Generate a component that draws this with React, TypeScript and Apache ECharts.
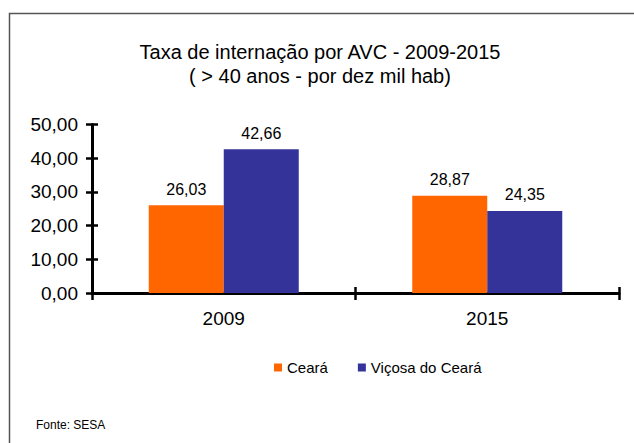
import React, { useEffect, useRef } from "react";
import * as echarts from "echarts";

const categories = ["2009", "2015"];
const cearaValues = [26.03, 28.87];
const vicosaValues = [42.66, 24.35];
const seriesNames = ["Ceará", "Viçosa do Ceará"];
const titleLines = ["Taxa de internação por AVC - 2009-2015", "( > 40 anos - por dez mil hab)"];
const sourceText = "Fonte: SESA";
const yMin = 0;
const yMax = 50;
const yStep = 10;

const fmt = (v: number) => v.toFixed(2).replace(".", ",");
const FONT = "'Liberation Sans', Arial, sans-serif";

export default function App() {
  const ref = useRef<HTMLDivElement>(null);
  useEffect(() => {
    if (!ref.current) return;
    const chart = echarts.init(ref.current, null, { renderer: "svg" });
    const grid = { left: 92, right: 15, top: 124.5, bottom: 150 };
    const axisLineStyle = { color: "#000", width: 3 };
    const tickStyle = { color: "#000", width: 2.5 };
    chart.setOption({
      animation: false,
      backgroundColor: "#fff",
      textStyle: { fontFamily: FONT },
      graphic: [
        {
          type: "rect",
          shape: { x: 9.5, y: 13.5, width: 700, height: 500 },
          style: { fill: "none", stroke: "#555", lineWidth: 1.5 },
          silent: true,
          z: -10,
        },
        {
          type: "text",
          x: 320,
          y: 52,
          style: { text: titleLines[0], fontSize: 20, fontFamily: FONT, fill: "#000", textAlign: "center", textVerticalAlign: "middle" },
        },
        {
          type: "text",
          x: 320,
          y: 76,
          style: { text: titleLines[1], fontSize: 20, fontFamily: FONT, fill: "#000", textAlign: "center", textVerticalAlign: "middle" },
        },
        {
          type: "text",
          x: 36,
          y: 425,
          style: { text: sourceText, fontSize: 12, fontFamily: FONT, fill: "#000", textAlign: "left", textVerticalAlign: "middle" },
        },
      ],
      legend: {
        data: seriesNames,
        left: 269,
        top: 355,
        icon: "rect",
        itemWidth: 8,
        itemHeight: 8,
        itemGap: 30,
        textStyle: { fontSize: 15, fontFamily: FONT, color: "#000" },
      },
      grid,
      xAxis: [
        {
          type: "category",
          data: categories,
          axisLine: { lineStyle: axisLineStyle },
          axisTick: { show: true, length: 7, lineStyle: tickStyle },
          axisLabel: { fontSize: 19, color: "#000", margin: 16, fontFamily: FONT },
        },
        {
          type: "category",
          data: categories,
          position: "bottom",
          axisLine: { show: false },
          axisTick: { show: true, inside: true, length: 6, lineStyle: tickStyle },
          axisLabel: { show: false },
        },
      ],
      yAxis: [
        {
          type: "value",
          min: yMin,
          max: yMax,
          interval: yStep,
          splitLine: { show: false },
          axisLine: { show: true, lineStyle: axisLineStyle },
          axisTick: { show: true, length: 6, lineStyle: tickStyle },
          axisLabel: { fontSize: 19, color: "#000", margin: 14, fontFamily: FONT, formatter: (v: number) => fmt(v) },
        },
        {
          type: "value",
          min: yMin,
          max: yMax,
          interval: yStep,
          position: "left",
          splitLine: { show: false },
          axisLine: { show: false },
          axisTick: { show: true, inside: true, length: 6, lineStyle: tickStyle },
          axisLabel: { show: false },
        },
      ],
      series: [
        {
          name: seriesNames[0],
          type: "bar",
          data: cearaValues,
          barWidth: 75,
          barGap: "0%",
          itemStyle: { color: "#FF6600" },
          label: { show: true, position: "top", distance: 8, fontSize: 16, color: "#000", fontFamily: FONT, formatter: (p: any) => fmt(p.value) },
        },
        {
          name: seriesNames[1],
          type: "bar",
          data: vicosaValues,
          barWidth: 75,
          barGap: "0%",
          itemStyle: { color: "#333399" },
          label: { show: true, position: "top", distance: 8, fontSize: 16, color: "#000", fontFamily: FONT, formatter: (p: any) => fmt(p.value) },
        },
      ],
    });
    return () => chart.dispose();
  }, []);
  return <div ref={ref} style={{ position: "absolute", left: 0, top: 0, width: 634, height: 443 }} />;
}
